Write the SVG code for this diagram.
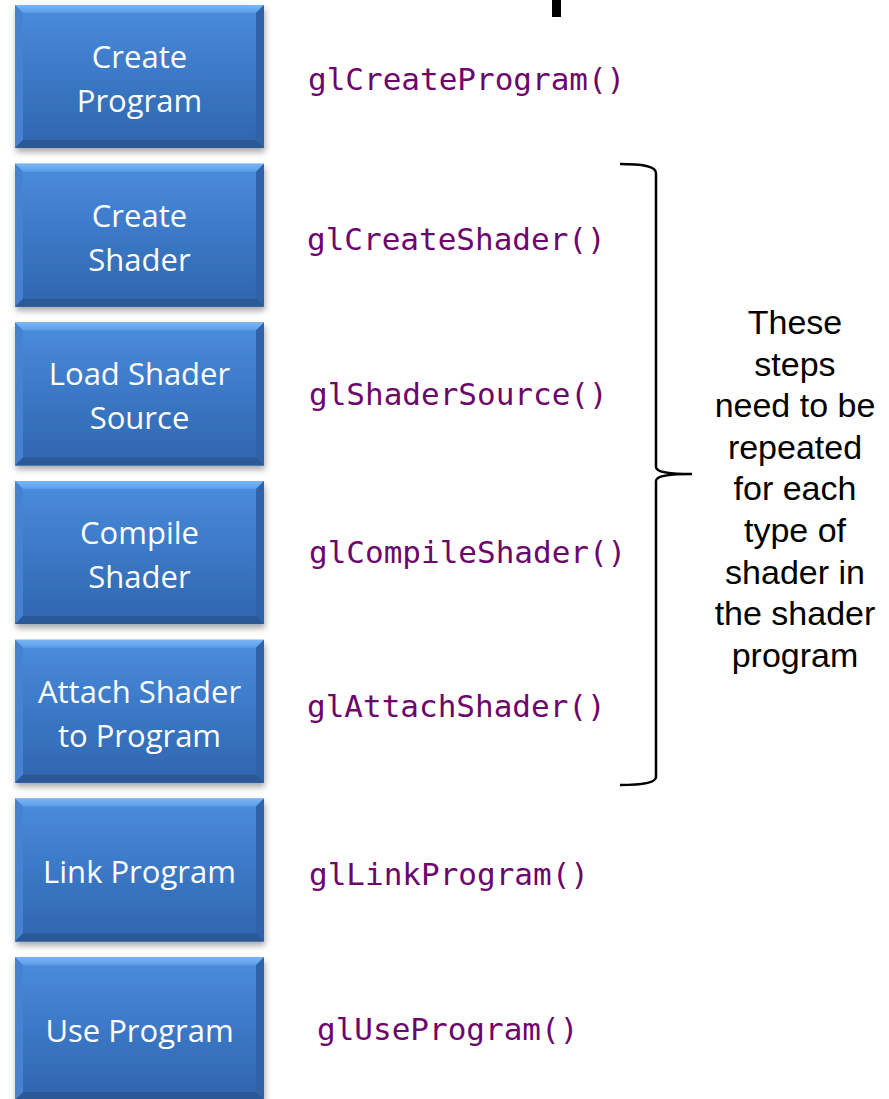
<svg xmlns="http://www.w3.org/2000/svg" xmlns:xlink="http://www.w3.org/1999/xlink" width="889" height="1099" viewBox="0 0 889 1099">
<style>
.lbl{font-family:"Open Sans","Noto Sans",sans-serif;font-size:31px;fill:#ffffff;text-anchor:middle}
.code{font-family:"DejaVu Sans Mono","Liberation Mono",monospace;font-size:31px;fill:#6c066c}
.note{font-family:"Liberation Sans",Arial,sans-serif;font-size:34px;fill:#000000;text-anchor:middle}
.brace{fill:none;stroke:#000000;stroke-width:2.5}
</style>
<defs>
<linearGradient id="gMain" x1="0" y1="0" x2="0" y2="1">
<stop offset="0" stop-color="#4b8ddd"/>
<stop offset="0.5" stop-color="#3b78c6"/>
<stop offset="1" stop-color="#3065ad"/>
</linearGradient>
<linearGradient id="gTop" x1="0" y1="0" x2="0" y2="1">
<stop offset="0" stop-color="#7ab6f5"/>
<stop offset="1" stop-color="#5a9ce8"/>
</linearGradient>
<filter id="shadow" x="-10%" y="-10%" width="120%" height="125%">
<feGaussianBlur in="SourceAlpha" stdDeviation="3"/>
<feOffset dx="1" dy="4" result="b"/>
<feComponentTransfer><feFuncA type="linear" slope="0.35"/></feComponentTransfer>
<feMerge><feMergeNode/><feMergeNode in="SourceGraphic"/></feMerge>
</filter>
<g id="box">
<rect x="0" y="0" width="249" height="143" fill="url(#gMain)" filter="url(#shadow)"/>
<polygon points="0,0 249,0 241,8 8,8" fill="url(#gTop)"/>
<polygon points="0,0 8,8 8,135 0,143" fill="#4583d2"/>
<polygon points="249,0 249,143 241,135 241,8" fill="#2f62a6"/>
<polygon points="0,143 8,135 241,135 249,143" fill="#2b5897"/>
</g>
</defs>
<rect x="552" y="0" width="9" height="17" fill="#000000"/>
<g id="n1"><use xlink:href="#box" x="15" y="5"/><text class="lbl" x="139.5" y="68">Create</text><text class="lbl" x="139.5" y="112">Program</text></g>
<g id="n2"><use xlink:href="#box" x="15" y="163.7"/><text class="lbl" x="139.5" y="226.7">Create</text><text class="lbl" x="139.5" y="270.7">Shader</text></g>
<g id="n3"><use xlink:href="#box" x="15" y="322.4"/><text class="lbl" x="139.5" y="385.4">Load Shader</text><text class="lbl" x="139.5" y="429.4">Source</text></g>
<g id="n4"><use xlink:href="#box" x="15" y="481.1"/><text class="lbl" x="139.5" y="544.1">Compile</text><text class="lbl" x="139.5" y="588.1">Shader</text></g>
<g id="n5"><use xlink:href="#box" x="15" y="639.8"/><text class="lbl" x="139.5" y="702.8">Attach Shader</text><text class="lbl" x="139.5" y="746.8">to Program</text></g>
<g id="n6"><use xlink:href="#box" x="15" y="798.5"/><text class="lbl" x="139.5" y="883">Link Program</text></g>
<g id="n7"><use xlink:href="#box" x="15" y="957.2"/><text class="lbl" x="139.5" y="1042">Use Program</text></g>
<g id="calls">
<text class="code" x="308" y="90">glCreateProgram()</text>
<text class="code" x="307" y="250">glCreateShader()</text>
<text class="code" x="309" y="405">glShaderSource()</text>
<text class="code" x="309" y="563">glCompileShader()</text>
<text class="code" x="307" y="717">glAttachShader()</text>
<text class="code" x="309" y="885">glLinkProgram()</text>
<text class="code" x="317" y="1040">glUseProgram()</text>
</g>
<g id="connectors">
<path class="brace" d="M620,164 C642,164 656,166 656,173 L656,467 C656,472 668,474 692,474 C668,474 656,476 656,481 L656,777 C656,783 642,785 620,785"/>
</g>
<g id="note">
<text class="note" x="795" y="334">These</text>
<text class="note" x="795" y="375.6">steps</text>
<text class="note" x="795" y="417.2">need to be</text>
<text class="note" x="795" y="458.8">repeated</text>
<text class="note" x="795" y="500.4">for each</text>
<text class="note" x="795" y="542">type of</text>
<text class="note" x="795" y="583.6">shader in</text>
<text class="note" x="795" y="625.2">the shader</text>
<text class="note" x="795" y="666.8">program</text>
</g>
</svg>
